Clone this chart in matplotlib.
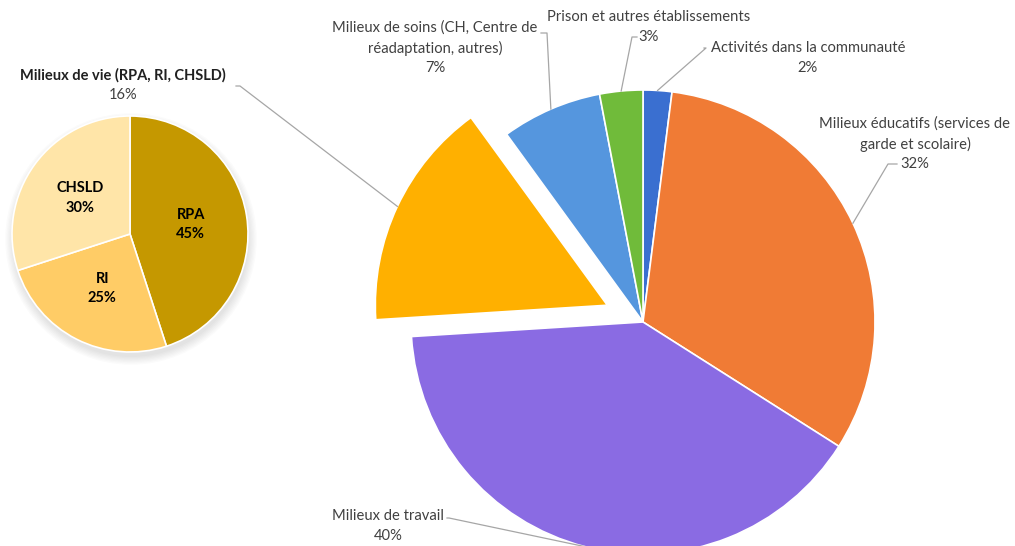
import matplotlib.pyplot as plt
import numpy as np
from matplotlib.patches import Circle

# Données du graphique principal (sens horaire à partir du haut)
categories = ['Activités dans la communauté',
              'Milieux éducatifs (services de\ngarde et scolaire)',
              'Milieux de travail',
              'Milieux de vie (RPA, RI, CHSLD)',
              'Milieux de soins (CH, Centre de\nréadaptation, autres)',
              'Prison et autres établissements']
valeurs = [2, 32, 40, 16, 7, 3]
couleurs = ['#3A6FD0', '#F07B35', '#8A6BE3', '#FFB000', '#5596DE', '#70BB3A']

# Sous-répartition des milieux de vie
sous_categories = ['RPA', 'RI', 'CHSLD']
sous_valeurs = [45, 25, 30]
sous_couleurs = ['#C59800', '#FFCC66', '#FFE5A8']

plt.rcParams['font.family'] = ['Lato', 'DejaVu Sans']
gris_texte = '#404040'
gris_ligne = '#A6A6A6'

fig = plt.figure(figsize=(10.15, 5.46), dpi=100)
ax = fig.add_axes([0, 0, 1, 1])
ax.set_xlim(0, 1015)
ax.set_ylim(0, 546)
ax.set_aspect('equal')
ax.axis('off')

# Tarte principale (coordonnées en pixels, y vers le haut)
centre = (643, 224)
rayon = 232
decalage = 0.17 * rayon  # pie() attend le décalage en unités de données
explode = [decalage if c.startswith('Milieux de vie') else 0 for c in categories]
wedges, _ = ax.pie(valeurs, colors=couleurs, startangle=90, counterclock=False,
                   explode=explode, center=centre, radius=rayon,
                   wedgeprops=dict(edgecolor='white', linewidth=1.2))

# Centre du bloc d'étiquette et trait de rappel
etiquettes = [
    (808, 488, [(704, 498), (706, 498)]),
    (915, 402, [(897, 382), (888, 382)]),
    (388, 20, [(447, 28), (449, 28)]),
    (123, 461, [(236, 460), (240, 460)]),
    (435, 498, [(541, 513), (547, 513)]),
    (649, 519, [(637, 509), (632, 509)]),
]

for w, cat, v, (tx, ty, pts) in zip(wedges, categories, valeurs, etiquettes):
    mid = np.deg2rad((w.theta1 + w.theta2) / 2)
    cx, cy = w.center
    bx = cx + w.r * np.cos(mid)
    by = cy + w.r * np.sin(mid)
    xs = [p[0] for p in pts] + [bx]
    ys = [p[1] for p in pts] + [by]
    ax.plot(xs, ys, color=gris_ligne, lw=0.9, zorder=1, clip_on=False)
    gras = cat.startswith('Milieux de vie')
    if gras:
        ax.text(tx, ty + 10, cat, ha='center', va='center', fontsize=10.5,
                color='#202020', fontweight='bold')
        ax.text(tx, ty - 10, f'{v}%', ha='center', va='center', fontsize=10.5,
                color=gris_texte)
    else:
        ax.text(tx, ty, f'{cat}\n{v}%', ha='center', va='center', fontsize=10.6,
                color=gris_texte, linespacing=1.48)

# Petite tarte avec ombre douce
sc = (130, 312)
sr = 118
for i in range(7):
    ax.add_patch(Circle((sc[0] + 1, sc[1] - 5), sr + i * 1.3, color='black',
                        alpha=0.015, lw=0, zorder=0))
ax.pie(sous_valeurs, labels=[f'{c}\n{v}%' for c, v in zip(sous_categories, sous_valeurs)],
       colors=sous_couleurs, startangle=90, counterclock=False, center=sc, radius=sr,
       labeldistance=0.52, wedgeprops=dict(edgecolor='white', linewidth=1.2),
       textprops=dict(ha='center', va='center', fontsize=10.5, fontweight='bold',
                      color='black', linespacing=1.5))

ax.set_xlim(0, 1015)
ax.set_ylim(0, 546)
fig.savefig('out.png', dpi=100)
